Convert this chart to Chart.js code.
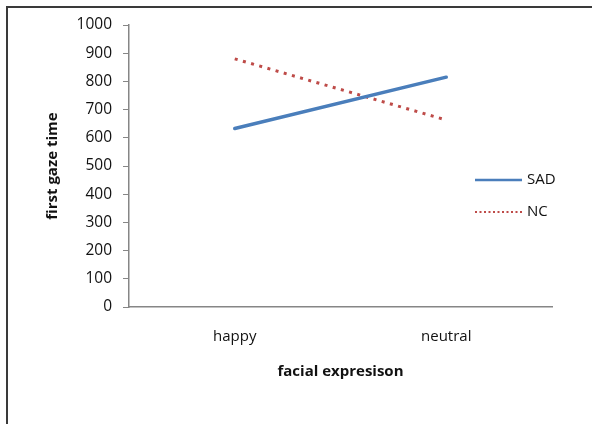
<!DOCTYPE html>
<html>
<head>
<meta charset="utf-8">
<script src="https://cdn.jsdelivr.net/npm/chart.js@4/dist/chart.umd.min.js"></script>
<style>
  html, body { margin: 0; padding: 0; background: #fff; overflow: hidden; }
  #wrap { position: relative; width: 592px; height: 424px; }
  #frame { position: absolute; left: 6px; top: 6px; width: 620px; height: 450px; border: 2px solid #3a3a3a; box-sizing: border-box; pointer-events: none; }
  canvas { position: absolute; left: 0; top: 0; }
</style>
</head>
<body>
<div id="wrap">
  <canvas id="c" width="592" height="424"></canvas>
  <div id="frame"></div>
</div>
<script>
const categories = ["happy", "neutral"];
const sadValues = [633, 815];
const ncValues = [880, 663];
const seriesNames = ["SAD", "NC"];
const yTitle = "first gaze time";
const xTitle = "facial expresison";

const FONT = "'Open Sans', 'Liberation Sans', sans-serif";

const legendPlugin = {
  id: 'fixedLegend',
  afterDraw(chart) {
    const ctx = chart.ctx;
    const x0 = 475, x1 = 522, ys = [180, 212];
    chart.data.datasets.forEach((ds, i) => {
      const y = ys[i];
      ctx.save();
      ctx.strokeStyle = ds.borderColor;
      ctx.lineWidth = ds.legendWidth || ds.borderWidth;
      ctx.lineCap = 'butt';
      ctx.setLineDash(ds.legendDash || []);
      ctx.beginPath();
      ctx.moveTo(x0, y);
      ctx.lineTo(x1, y);
      ctx.stroke();
      ctx.setLineDash([]);
      ctx.fillStyle = '#111';
      ctx.font = "15px " + FONT;
      ctx.textBaseline = 'middle';
      ctx.textAlign = 'left';
      ctx.fillText(ds.label, x1 + 5, y);
      ctx.restore();
    });
  }
};

new Chart(document.getElementById('c'), {
  type: 'line',
  data: {
    labels: categories,
    datasets: [
      {
        label: seriesNames[0],
        data: sadValues,
        borderColor: '#4A7EBB',
        borderWidth: 3.5,
        legendWidth: 2.5,
        pointRadius: 0,
        borderCapStyle: 'round',
        tension: 0
      },
      {
        label: seriesNames[1],
        data: ncValues,
        borderColor: '#BE4B48',
        borderWidth: 3,
        borderDash: [3, 5.5],
        legendWidth: 2,
        legendDash: [2, 2.5],
        pointRadius: 0,
        tension: 0
      }
    ]
  },
  options: {
    responsive: false,
    devicePixelRatio: 1,
    animation: false,
    layout: { padding: { left: 0, right: 40, top: 25, bottom: 0 } },
    plugins: { legend: { display: false }, tooltip: { enabled: false } },
    scales: {
      x: {
        type: 'category',
        offset: true,
        grid: { display: false, drawTicks: false },
        border: { display: true, color: '#868686', width: 1.5 },
        ticks: { color: '#111', font: { family: FONT, size: 15 }, padding: 21, maxRotation: 0 },
        title: { display: true, text: xTitle, color: '#111', font: { family: FONT, size: 15, weight: 'bold' }, padding: { top: 0, bottom: 43 } },
        afterFit(scale) { scale.height = 117; }
      },
      y: {
        min: 0,
        max: 1000,
        grid: { drawOnChartArea: false, drawTicks: true, tickLength: 6, color: '#868686' },
        border: { display: true, color: '#868686', width: 1.5 },
        ticks: { stepSize: 100, color: '#111', font: { family: FONT, size: 15.5 }, padding: 11, callback: (v) => String(v) },
        title: { display: true, text: yTitle, color: '#111', font: { family: FONT, size: 15, weight: 'bold' }, padding: { top: 44, bottom: 0 } },
        afterFit(scale) { scale.width = 129; }
      }
    }
  },
  plugins: [legendPlugin]
});
</script>
</body>
</html>
